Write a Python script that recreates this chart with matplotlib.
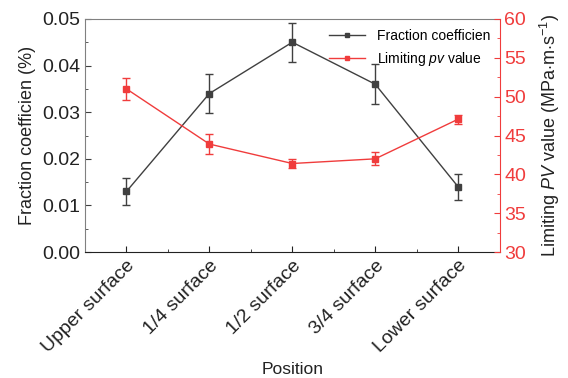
import matplotlib
matplotlib.use("Agg")
import matplotlib.pyplot as plt
from matplotlib.ticker import MultipleLocator, FormatStrFormatter
from matplotlib.lines import Line2D

plt.rcParams['font.family'] = ['Liberation Sans', 'DejaVu Sans']
plt.rcParams['mathtext.fontset'] = 'custom'
plt.rcParams['mathtext.it'] = 'Liberation Sans:italic'
plt.rcParams['mathtext.rm'] = 'Liberation Sans'

positions = ["Upper surface", "1/4 surface", "1/2 surface", "3/4 surface", "Lower surface"]
friction = [0.013, 0.034, 0.045, 0.036, 0.014]
friction_err = [0.0028, 0.0042, 0.0042, 0.0043, 0.0028]
pv = [51.0, 43.9, 41.4, 42.0, 47.1]
pv_err = [1.4, 1.3, 0.55, 0.85, 0.6]

black = '#404040'
red = '#f03c3c'

fig = plt.figure(figsize=(5.68, 3.78), dpi=100)
ax = fig.add_axes([0.1496, 0.333, 0.730, 0.617])
x = list(range(len(positions)))

ax.errorbar(x, friction, yerr=friction_err, color=black, marker='s', markersize=4,
            linewidth=1, capsize=3, elinewidth=1, capthick=1)
ax.set_xlim(-0.5, 4.5)
ax.set_ylim(0, 0.05)
ax.yaxis.set_major_locator(MultipleLocator(0.01))
ax.yaxis.set_minor_locator(MultipleLocator(0.005))
ax.yaxis.set_major_formatter(FormatStrFormatter('%.2f'))
ax.set_xticks(x)
ax.set_xticks([i + 0.5 for i in x[:-1]], minor=True)
ax.set_xticklabels(positions, rotation=45, ha='right', rotation_mode='anchor', fontsize=14)
ax.tick_params(axis='both', which='both', direction='in')
ax.tick_params(axis='y', which='major', length=4, labelsize=14, colors=black, labelcolor='#222222')
ax.tick_params(axis='y', which='minor', length=2, colors=black)
ax.tick_params(axis='x', which='major', length=4, colors='#222222')
ax.tick_params(axis='x', which='minor', length=2, colors='#222222')
ax.set_ylabel('Fraction coefficien (%)', fontsize=13, color='#222222')
ax.set_xlabel('Position', fontsize=12.5, color='#222222')
for s in ['left', 'top']:
    ax.spines[s].set_color('#808080')
ax.spines['bottom'].set_color('#222222')
ax.spines['right'].set_visible(False)

ax2 = ax.twinx()
ax2.errorbar(x, pv, yerr=pv_err, color=red, marker='s', markersize=4,
             linewidth=1, capsize=3, elinewidth=1, capthick=1)
ax2.set_ylim(30, 60)
ax2.yaxis.set_major_locator(MultipleLocator(5))
ax2.yaxis.set_minor_locator(MultipleLocator(2.5))
ax2.tick_params(axis='y', which='both', direction='in', colors=red, labelsize=14)
ax2.tick_params(axis='y', which='major', length=4)
ax2.tick_params(axis='y', which='minor', length=2)
ax2.spines['right'].set_color(red)
for s in ['left', 'top', 'bottom']:
    ax2.spines[s].set_visible(False)
ax2.set_ylabel(r'Limiting $\mathit{PV}$ value (MPa$\cdot$m$\cdot$s$^{-1}$)', fontsize=13,
               color='#222222', labelpad=8)

h1 = Line2D([], [], color=black, marker='s', markersize=3, linewidth=1)
h2 = Line2D([], [], color=red, marker='s', markersize=3, linewidth=1)
ax.legend([h1, h2], ['Fraction coefficien', r'Limiting $\mathit{pv}$ value'],
          loc='upper right', frameon=False, fontsize=10, handlelength=2.6,
          bbox_to_anchor=(1.0, 1.0), borderaxespad=0.3)

fig.savefig('out.png', dpi=100)
